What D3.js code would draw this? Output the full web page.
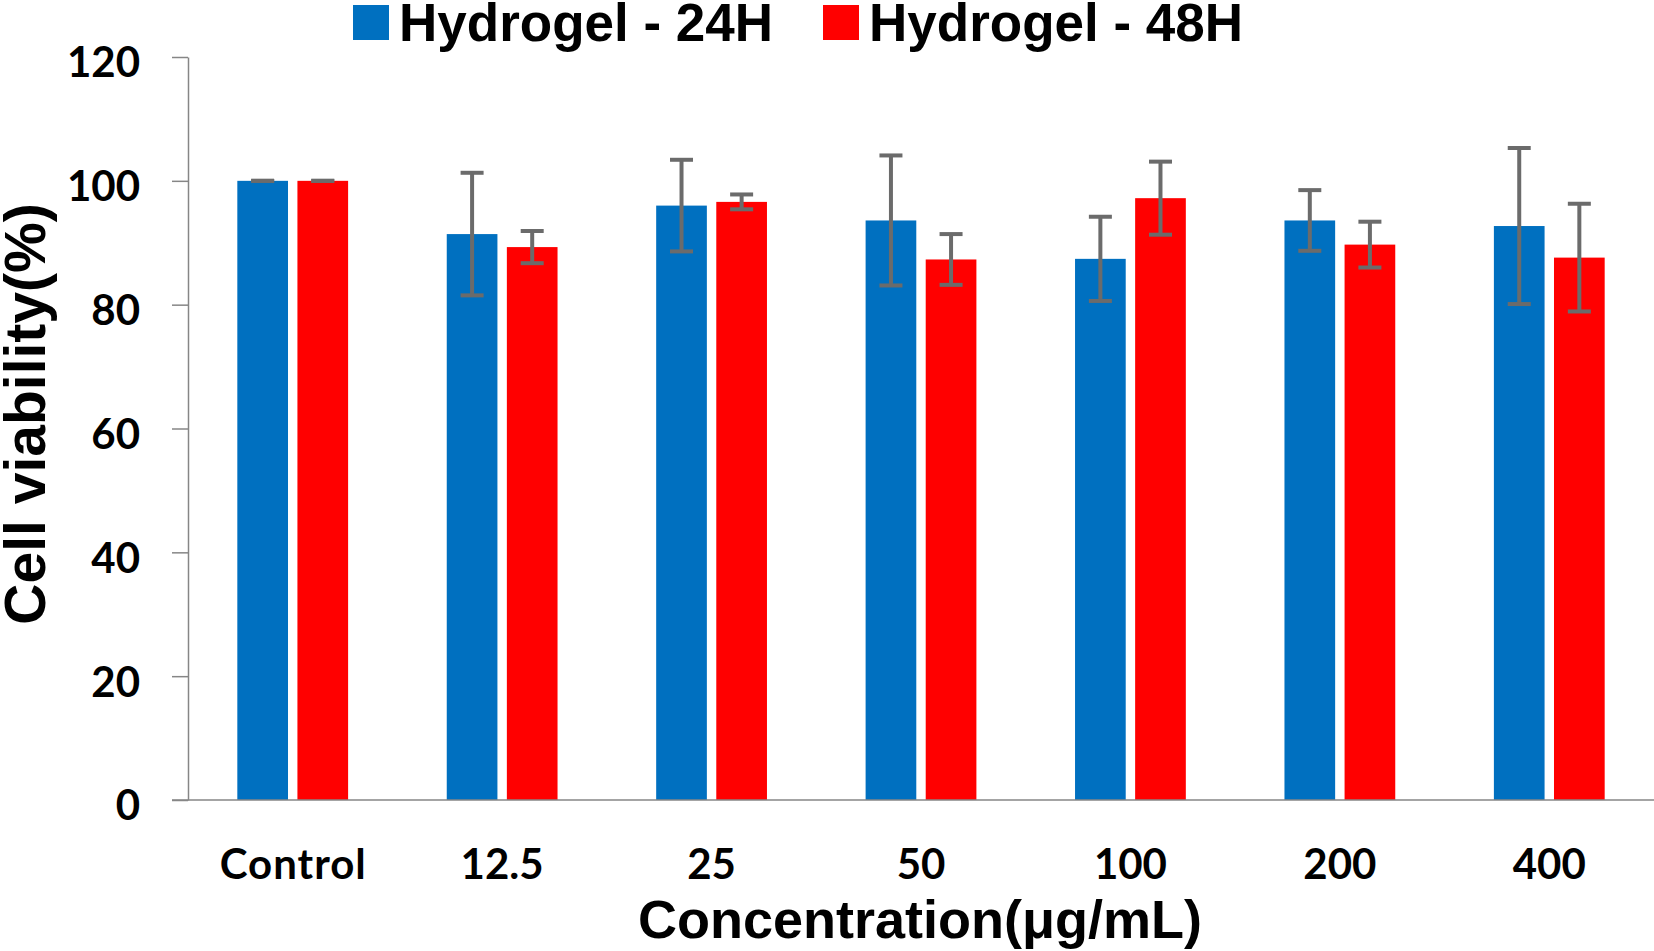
<!DOCTYPE html>
<html>
<head>
<meta charset="utf-8">
<script src="https://cdn.jsdelivr.net/npm/d3@7"></script>
<style>
  body { margin: 0; background: #fff; }
  svg { display: block; }
</style>
</head>
<body>
<div id="chart"></div>
<script>
// Data
const categories = ["Control", "12.5", "25", "50", "100", "200", "400"];
const seriesNames = ["Hydrogel - 24H", "Hydrogel - 48H"];
const values24 = [100, 91.4, 96.0, 93.6, 87.4, 93.6, 92.7];
const errors24 = [0, 9.9, 7.4, 10.5, 6.8, 4.9, 12.6];
const values48 = [100, 89.3, 96.6, 87.3, 97.2, 89.7, 87.6];
const errors48 = [0, 2.6, 1.2, 4.1, 5.9, 3.7, 8.7];
const yTicks = [0, 20, 40, 60, 80, 100, 120];
const colors = ["#0070C0", "#FF0000"];

const W = 1654, H = 951;
const margin = { top: 57, right: 0, bottom: 151, left: 188 },
    width = W - margin.left - margin.right,
    height = H - margin.top - margin.bottom;

const svg = d3.select("#chart").append("svg")
    .attr("width", W)
    .attr("height", H);

const g = svg.append("g")
    .attr("transform", `translate(${margin.left},${margin.top})`);

const x = d3.scaleBand()
    .domain(categories)
    .range([0, width]);

const y = d3.scaleLinear()
    .domain([0, 120])
    .range([height, 0]);

// bar geometry inside each band
const barW = x.bandwidth() * 0.242;
const gap = x.bandwidth() * 0.045;

// y axis
const yAxis = g.append("g")
    .call(d3.axisLeft(y).tickValues(yTicks).tickSize(16).tickPadding(32).tickSizeOuter(0));
yAxis.select(".domain").attr("stroke", "#868686").attr("stroke-width", 1.5);
yAxis.selectAll(".tick line").attr("stroke", "#868686").attr("stroke-width", 1.5);
yAxis.selectAll(".tick text")
    .attr("font-family", "Lato, sans-serif")
    .attr("font-weight", "bold")
    .attr("font-size", "42px")
    .attr("fill", "#000")
    .attr("dy", "0.38em")
    .attr("y", 4);

// bars
const series = [
    { name: seriesNames[0], values: values24, errors: errors24, color: colors[0], offset: -gap / 2 - barW },
    { name: seriesNames[1], values: values48, errors: errors48, color: colors[1], offset: gap / 2 }
];

series.forEach(s => {
    g.append("g").selectAll("rect")
        .data(categories)
        .join("rect")
        .attr("x", (d, i) => x(d) + x.bandwidth() / 2 + s.offset)
        .attr("y", (d, i) => y(s.values[i]))
        .attr("width", barW)
        .attr("height", (d, i) => y(0) - y(s.values[i]))
        .attr("fill", s.color);
});

// x axis line (drawn over bar bottoms)
g.append("line")
    .attr("x1", -16)
    .attr("x2", width)
    .attr("y1", y(0))
    .attr("y2", y(0))
    .attr("stroke", "#868686")
    .attr("stroke-width", 1.5);

// error bars
const capW = 23;
series.forEach(s => {
    const eg = g.append("g")
        .attr("stroke", "#6b6b6b")
        .attr("stroke-width", 4);
    categories.forEach((c, i) => {
        const cx = x(c) + x.bandwidth() / 2 + s.offset + barW / 2;
        const hi = y(s.values[i] + s.errors[i]);
        const lo = y(s.values[i] - s.errors[i]);
        eg.append("line").attr("x1", cx).attr("x2", cx).attr("y1", hi).attr("y2", lo);
        eg.append("line").attr("x1", cx - capW / 2).attr("x2", cx + capW / 2).attr("y1", hi).attr("y2", hi);
        eg.append("line").attr("x1", cx - capW / 2).attr("x2", cx + capW / 2).attr("y1", lo).attr("y2", lo);
    });
});

// x tick labels
g.append("g").selectAll("text")
    .data(categories)
    .join("text")
    .attr("x", d => x(d) + x.bandwidth() / 2)
    .attr("y", y(0) + 79)
    .attr("text-anchor", "middle")
    .attr("font-family", "Lato, sans-serif")
    .attr("font-weight", "bold")
    .attr("font-size", "42px")
    .attr("textLength", d => d === "Control" ? 146 : null)
    .text(d => d);

// axis titles
svg.append("text")
    .attr("x", 920)
    .attr("y", 938)
    .attr("text-anchor", "middle")
    .attr("font-family", "Liberation Sans, Arial, sans-serif")
    .attr("font-weight", "bold")
    .attr("font-size", "54px")
    .text("Concentration(μg/mL)");

svg.append("text")
    .attr("transform", "translate(45,414) rotate(-90)")
    .attr("text-anchor", "middle")
    .attr("font-family", "Liberation Sans, Arial, sans-serif")
    .attr("font-weight", "bold")
    .attr("font-size", "57px")
    .text("Cell viability(%)");

// legend
const legendX = [353, 823];
seriesNames.forEach((name, i) => {
    const lg = svg.append("g").attr("transform", `translate(${legendX[i]},0)`);
    lg.append("rect")
        .attr("x", 0)
        .attr("y", 5)
        .attr("width", 36)
        .attr("height", 35)
        .attr("fill", colors[i]);
    lg.append("text")
        .attr("x", 46)
        .attr("y", 41)
        .attr("font-family", "Liberation Sans, Arial, sans-serif")
        .attr("font-weight", "bold")
        .attr("font-size", "53px")
        .text(name);
});
</script>
</body>
</html>
